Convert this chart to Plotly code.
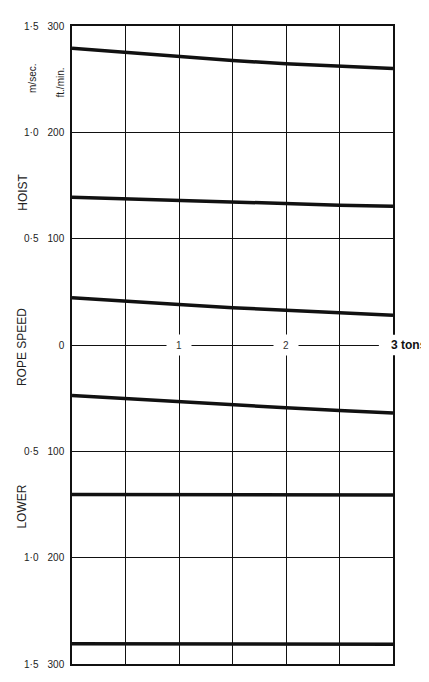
import plotly.graph_objects as go

tons = [0, 0.5, 1, 1.5, 2, 2.5, 3]
hoist_fast = [279, 275, 271.5, 267.5, 264.5, 262, 260]
hoist_mid = [139, 137.5, 135.5, 134, 132.5, 131.5, 130.5]
hoist_slow = [44.5, 41, 38, 35, 32.5, 30, 28]
lower_slow = [-47.5, -50.5, -53.5, -56.5, -59, -61.5, -64]
lower_mid = [-140.5, -140.5, -141, -141, -141, -141, -141]
lower_fast = [-281, -281, -281, -281.5, -281.5, -281.5, -281.5]

ft_vals = [300, 200, 100, 0, -100, -200, -300]
ft_text = ["300", "200", "100", "0", "100", "200", "300"]
ms_vals = [300, 200, 100, -100, -200, -300]
ms_text = ["1·5", "1·0", "0·5", "0·5", "1·0", "1·5"]
ton_vals = [1, 2]
ton_text = ["1", "2"]

ink = "#111111"
font = "Liberation Sans Narrow, Liberation Sans, Arial"

fig = go.Figure()
for ys in [hoist_fast, hoist_mid, hoist_slow, lower_slow, lower_mid, lower_fast]:
    fig.add_trace(go.Scatter(x=tons, y=ys, mode="lines",
                             line=dict(color=ink, width=3.5),
                             showlegend=False, hoverinfo="skip"))

fig.update_xaxes(range=[0, 3], dtick=0.5, showgrid=True, gridcolor=ink,
                 gridwidth=1.3, showticklabels=False, zeroline=False,
                 showline=True, linecolor=ink, linewidth=1.5, mirror=True)
fig.update_yaxes(range=[-300, 300], tickvals=ft_vals, ticktext=ft_text,
                 showgrid=True, gridcolor=ink, gridwidth=1.3,
                 zeroline=True, zerolinecolor=ink, zerolinewidth=1.3,
                 showline=True, linecolor=ink, linewidth=1.5, mirror=True,
                 ticks="", ticklabelstandoff=4,
                 tickfont=dict(family=font, size=10, color="#222"))

# m/sec column
for v, t in zip(ms_vals, ms_text):
    fig.add_annotation(x=-0.127, y=v, xref="paper", yref="y", text=t,
                       xanchor="center", showarrow=False,
                       font=dict(family=font, size=10, color="#222"))

# breaks in the zero line for the load labels
for v, t in zip(ton_vals, ton_text):
    fig.add_annotation(x=v, y=0, text=t, showarrow=False, bgcolor="white",
                       width=22, height=18,
                       font=dict(family=font, size=10, color="#333"))
fig.add_shape(type="rect", xref="paper", yref="paper", x0=0.956, x1=1.2,
              y0=0.484, y1=0.516, fillcolor="white", line_width=0, layer="above")
fig.add_annotation(x=3, y=0, text="<b>3 tons</b>", showarrow=False,
                   xanchor="left", xshift=-4,
                   font=dict(family="Liberation Sans, Arial", size=12, color="#111"))

rot = [("m/sec.", -0.125, 251, 10), ("ft./min.", -0.037, 247, 10),
       ("HOIST", -0.153, 144, 12), ("ROPE SPEED", -0.156, -2, 12),
       ("LOWER", -0.156, -152, 12)]
for t, x, y, s in rot:
    fig.add_annotation(x=x, y=y, xref="paper", yref="y", text=t, textangle=-90,
                       xanchor="center", showarrow=False,
                       font=dict(family="Liberation Sans, Arial", size=s, color="#222"))

# page body adds 8px, so the figure is trimmed to fit the window
fig.update_layout(width=421, height=674,
                  margin=dict(l=64, r=36, t=15, b=17),
                  plot_bgcolor="white", paper_bgcolor="white")

fig.write_html("out.html")
